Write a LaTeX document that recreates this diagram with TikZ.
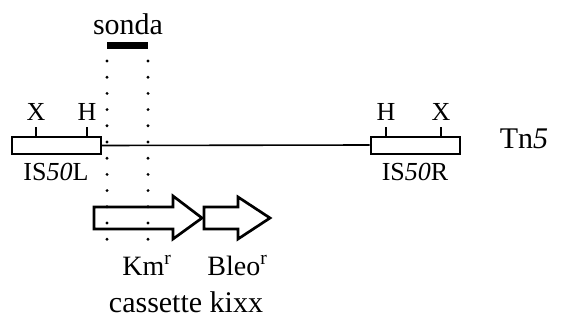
\documentclass[tikz,border=0pt]{standalone}
\usepackage{fontspec}
\setmainfont{Liberation Serif}
\usetikzlibrary{positioning,calc}

\begin{document}
\begin{tikzpicture}[
  x=0.5pt, y=-0.5pt,
  line join=miter,
  lab/.style={font=\fontsize{15}{18}\selectfont, anchor=base, inner sep=0pt},
  sitelab/.style={font=\fontsize{13}{15}\selectfont, anchor=base, inner sep=0pt},
  genelab/.style={font=\fontsize{14}{17}\selectfont, anchor=base west, inner sep=0pt},
  isbox/.style={draw, line width=1pt, minimum width=44.5pt, minimum height=8.5pt, inner sep=0pt},
  genearrow/.style={draw, line width=1.35pt},
]
\useasboundingbox (0,0) rectangle (561,326);

% ---------- Tn5 with the two IS50 ends ----------
\node[isbox] (isl) at (56.5,145.5) {};
\node[isbox] (isr) at (415,145) {};
\draw[line width=0.8pt] (isl.east) -- (isr.west);

\draw[line width=0.8pt] (36,137) -- (36,127);
\draw[line width=0.8pt] (87,137) -- (87,127);
\draw[line width=0.8pt] (386,137) -- (386,127);
\draw[line width=0.8pt] (441,137) -- (441,127);
\node[sitelab] (xl) at (36,120) {X};
\node[sitelab] (hl) at (87,120) {H};
\node[sitelab] (hr) at (386,120) {H};
\node[sitelab] (xr) at (441,120) {X};

\node[sitelab] (islab) at (56,180) {IS\textit{50}L};
\node[sitelab] (isrlab) at (415,180) {IS\textit{50}R};
\node[lab] (tn) at (524,148) {Tn\textit{5}};

% ---------- probe ----------
\node[lab] (sonda) at (128,35) {sonda};
\draw[line width=3.5pt] (107,46) -- (148,46);
\foreach \k in {0,...,11} {
  \fill (107,{61+16.2*\k}) circle (0.8pt);
  \fill (148,{61+16.2*\k}) circle (0.8pt);
}

% ---------- kixx cassette ----------
\draw[genearrow] (94,207) -- (173,207) -- (173,196) -- (202,218)
  -- (173,239) -- (173,229) -- (94,229) -- cycle;
\draw[genearrow] (204,207) -- (238,207) -- (238,197) -- (270,218)
  -- (238,239) -- (238,229) -- (204,229) -- cycle;
\node[genelab] (km) at (122,275) {Km\textsuperscript{r}};
\node[genelab] (bleo) at (207,275) {Bleo\textsuperscript{r}};
\node[lab] (kixx) at (186,312) {cassette kixx};
\end{tikzpicture}
\end{document}
